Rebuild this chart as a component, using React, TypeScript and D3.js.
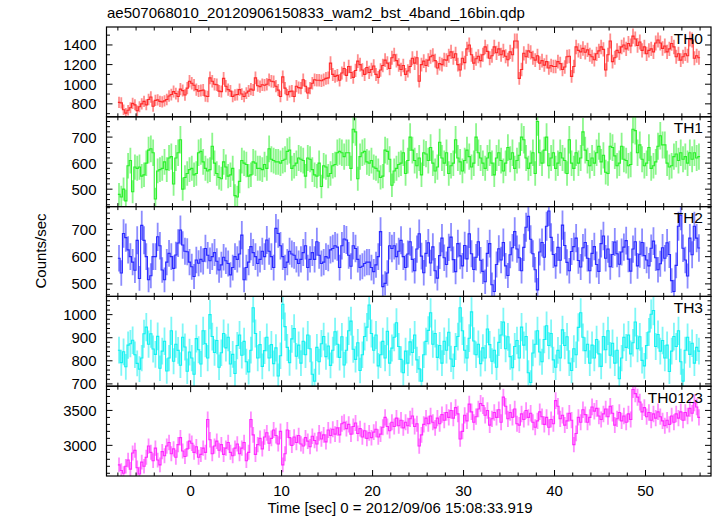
import React from 'react';
import * as d3 from 'd3';

// ---------- data (0.25 s bins, first bin centre at T_START) ----------
const T_START = -7.875;
const BIN = 0.25;

const TH0 = [
  815, 810, 740, 705, 735, 760, 805, 790, 730, 770, 800, 825, 790, 845, 870, 775,
  835, 840, 825, 820, 830, 845, 880, 895, 925, 905, 875, 950, 935, 890, 960, 1030,
  1010, 990, 945, 930, 935, 940, 880, 875, 1065, 1030, 1000, 995, 930, 925, 1060, 980,
  945, 930, 875, 890, 895, 945, 900, 875, 910, 930, 950, 940, 1065, 985, 975, 995,
  990, 1000, 1045, 1030, 1025, 980, 940, 875, 1075, 960, 892, 925, 930, 875, 980, 965,
  960, 1045, 980, 910, 960, 1010, 1045, 1040, 1040, 1035, 1045, 1060, 1065, 1215, 1100, 1080,
  1090, 1040, 1115, 1160, 1090, 1180, 1120, 1070, 1140, 1235, 1200, 1145, 1100, 1170, 1120, 1150,
  1185, 1100, 1070, 1145, 1190, 1245, 1215, 1160, 1270, 1300, 1240, 1195, 1150, 1190, 1100, 1135,
  1180, 1265, 1215, 1270, 1030, 1200, 1235, 1190, 1245, 1280, 1295, 1240, 1165, 1210, 1200, 1250,
  1245, 1290, 1330, 1270, 1310, 1200, 1145, 1265, 1220, 1360, 1400, 1300, 1215, 1260, 1285, 1240,
  1300, 1380, 1335, 1265, 1290, 1380, 1320, 1360, 1300, 1340, 1285, 1250, 1330, 1300, 1440, 1440,
  1060, 1150, 1315, 1280, 1340, 1325, 1270, 1245, 1290, 1215, 1240, 1195, 1230, 1165, 1190, 1180,
  1180, 1230, 1210, 1150, 1175, 1280, 1285, 1080, 1180, 1380, 1345, 1330, 1365, 1325, 1350, 1300,
  1280, 1250, 1310, 1340, 1380, 1355, 1145, 1300, 1440, 1230, 1270, 1345, 1320, 1380, 1400, 1360,
  1415, 1390, 1490, 1460, 1395, 1430, 1345, 1380, 1310, 1345, 1360, 1330, 1420, 1450, 1420, 1365,
  1390, 1330, 1360, 1415, 1380, 1280, 1310, 1245, 1280, 1310, 1290, 1460, 1450, 1265, 1290, 1270,
];

const TH1 = [
  480, 470, 500, 455, 590, 610, 490, 585, 580, 585, 550, 555, 600, 650, 655, 640,
  462, 570, 575, 580, 605, 575, 620, 625, 520, 620, 640, 690, 500, 545, 560, 575,
  580, 555, 560, 640, 645, 605, 580, 570, 575, 665, 600, 560, 545, 540, 605, 585,
  550, 555, 580, 475, 470, 530, 610, 600, 595, 550, 555, 605, 600, 580, 580, 575,
  595, 580, 655, 615, 610, 605, 605, 600, 610, 615, 645, 650, 580, 590, 600, 620,
  615, 610, 550, 620, 615, 575, 555, 550, 600, 510, 590, 585, 550, 560, 590, 595,
  640, 645, 640, 625, 640, 640, 580, 730, 720, 540, 625, 640, 645, 605, 600, 610,
  585, 580, 570, 545, 550, 650, 645, 615, 515, 570, 580, 595, 600, 640, 560, 610,
  700, 650, 610, 590, 620, 555, 640, 635, 610, 660, 600, 570, 585, 680, 620, 600,
  640, 560, 590, 600, 690, 620, 605, 570, 610, 650, 625, 585, 600, 700, 640, 620,
  600, 580, 620, 640, 600, 555, 620, 640, 610, 570, 600, 660, 615, 640, 580, 610,
  630, 700, 690, 620, 580, 600, 640, 560, 760, 640, 600, 650, 700, 590, 620, 640,
  580, 600, 640, 620, 610, 560, 690, 600, 580, 640, 600, 620, 720, 650, 610, 590,
  620, 600, 640, 665, 605, 630, 565, 560, 665, 660, 628, 590, 600, 665, 615, 610,
  590, 595, 730, 725, 640, 670, 615, 590, 600, 660, 580, 590, 605, 665, 705, 670,
  670, 600, 585, 590, 625, 635, 610, 640, 615, 625, 600, 640, 615, 640, 620, 625,
];

const TH2 = [
  594, 540, 685, 670, 625, 600, 580, 550, 660, 520, 715, 660, 600, 515, 530, 600,
  600, 673, 640, 551, 515, 580, 612, 600, 557, 606, 650, 698, 643, 620, 618, 580,
  563, 527, 588, 576, 590, 583, 630, 605, 585, 600, 615, 583, 551, 570, 598, 585,
  575, 533, 560, 600, 590, 610, 679, 515, 560, 580, 637, 615, 600, 575, 590, 620,
  600, 661, 620, 600, 560, 704, 685, 640, 600, 560, 580, 620, 610, 605, 590, 575,
  590, 615, 640, 560, 590, 615, 590, 655, 605, 575, 580, 600, 595, 625, 630, 640,
  635, 560, 640, 665, 661, 605, 565, 640, 630, 590, 560, 565, 575, 580, 580, 560,
  545, 570, 600, 692, 490, 502, 540, 640, 630, 640, 600, 620, 660, 600, 560, 610,
  655, 590, 548, 628, 684, 602, 541, 612, 651, 577, 636, 548, 521, 604, 668, 596,
  571, 634, 672, 589, 545, 648, 603, 566, 641, 592, 684, 611, 553, 598, 655, 587,
  546, 508, 612, 648, 497, 472, 571, 629, 588, 652, 566, 531, 607, 633, 692, 628,
  596, 548, 634, 708, 748, 664, 611, 552, 478, 617, 652, 598, 712, 768, 671, 608,
  566, 634, 587, 716, 641, 579, 548, 619, 637, 668, 586, 562, 633, 652, 594, 548,
  612, 637, 571, 546, 648, 676, 594, 628, 563, 608, 654, 611, 572, 617, 635, 659,
  591, 547, 628, 655, 566, 609, 652, 604, 588, 566, 631, 657, 596, 552, 574, 633,
  594, 651, 608, 512, 472, 568, 712, 752, 631, 588, 529, 668, 607, 712, 668, 632,
];

const TH3 = [
  846, 792, 839, 774, 868, 874, 889, 826, 789, 764, 812, 917, 946, 872, 917, 851,
  828, 906, 768, 842, 885, 756, 812, 930, 798, 872, 845, 781, 902, 860, 755, 838,
  812, 742, 896, 848, 786, 930, 874, 812, 1000, 905, 836, 888, 772, 835, 918, 856,
  902, 786, 828, 745, 866, 912, 824, 884, 796, 752, 846, 1030, 918, 812, 870, 776,
  844, 902, 812, 870, 788, 856, 734, 822, 1045, 948, 858, 792, 895, 940, 820, 868,
  790, 885, 826, 912, 852, 742, 712, 858, 796, 874, 905, 818, 864, 780, 846, 926,
  872, 815, 904, 782, 846, 930, 972, 850, 806, 878, 758, 826, 905, 946, 1042, 918,
  846, 912, 778, 826, 884, 812, 928, 790, 855, 902, 965, 862, 806, 748, 842, 790,
  882, 836, 912, 804, 765, 712, 826, 884, 932, 1008, 872, 918, 815, 866, 790, 885,
  846, 924, 808, 776, 862, 905, 1030, 930, 846, 812, 898, 1012, 886, 826, 872, 788,
  856, 812, 938, 870, 798, 846, 772, 880, 912, 968, 852, 904, 818, 770, 862, 888,
  812, 946, 868, 905, 748, 706, 834, 872, 930, 838, 796, 892, 952, 866, 918, 804,
  772, 845, 812, 934, 866, 904, 790, 758, 852, 826, 945, 1008, 902, 844, 872, 790,
  868, 812, 892, 830, 776, 905, 848, 930, 824, 876, 790, 846, 722, 812, 902, 858,
  912, 830, 878, 968, 852, 904, 802, 778, 866, 925, 1002, 1018, 862, 914, 842, 888,
  812, 868, 754, 842, 905, 862, 930, 796, 712, 846, 902, 828, 876, 790, 858, 842,
];

const TH0123 = [
  2720, 2640, 2600, 2700, 2790, 2660, 2890, 2930, 2680, 2590, 2760, 2700, 2830, 2990, 2900, 2780,
  2960, 2790, 2720, 2910, 2850, 2990, 3040, 2880, 2950, 2830, 3010, 3110, 2920, 2840, 2950, 3060,
  3030, 2900, 2980, 2830, 2870, 2960, 2900, 3370, 3080, 2880, 2990, 3060, 2930, 3010, 2870, 2960,
  3040, 2900, 2850, 2960, 3020, 2880, 2960, 3040, 2780, 2900, 3370, 3150, 2870, 3010, 3100, 2950,
  3120, 3180, 3030, 3100, 3220, 3140, 3020, 3200, 2720, 2880, 3220, 3110, 3000, 3120, 3040, 3140,
  3020, 2990, 3110, 3060, 2980, 3130, 3070, 3020, 3180, 3090, 3150, 3050, 3220, 3140, 3230, 3160,
  3250, 3150, 3310, 3330, 3240, 3300, 3160, 3270, 3320, 3170, 3240, 3120, 3210, 3100, 3180, 3110,
  3190, 3230, 3120, 3160, 3260, 3400, 3270, 3210, 3330, 3270, 3390, 3280, 3360, 3250, 3330, 3280,
  3380, 3420, 3270, 3310, 2990, 3150, 3300, 3390, 3310, 3420, 3330, 3250, 3390, 3310, 3440, 3360,
  3470, 3400, 3500, 3390, 3540, 3450, 3090, 3200, 3430, 3350, 3590, 3480, 3330, 3410, 3520, 3600,
  3570, 3430, 3500, 3290, 3380, 3470, 3400, 3510, 3330, 3690, 3560, 3380, 3470, 3400, 3520, 3310,
  3290, 3450, 3370, 3500, 3400, 3460, 3330, 3260, 3350, 3480, 3410, 3300, 3400, 3260, 3370, 3310,
  3640, 3560, 3380, 3430, 3290, 3350, 3460, 3360, 3010, 3170, 3400, 3330, 3510, 3440, 3330, 3400,
  3550, 3490, 3530, 3420, 3370, 3450, 3520, 3410, 3560, 3460, 3290, 3380, 3470, 3350, 3420, 3330,
  3450, 3370, 3800, 3740, 3690, 3620, 3480, 3540, 3410, 3470, 3360, 3450, 3390, 3480, 3410, 3350,
  3280, 3360, 3300, 3420, 3330, 3450, 3390, 3480, 3360, 3470, 3420, 3530, 3460, 3610, 3550, 3400,
];

const SERIES_NAMES = ['TH0', 'TH1', 'TH2', 'TH3', 'TH0123'];
const SERIES_DATA = [TH0, TH1, TH2, TH3, TH0123];
const Y_DOMAINS: [number, number][] = [[668, 1583], [433, 778], [454, 784], [690, 1079], [2561, 3847]];
const Y_LABEL_TICKS = [[800, 1000, 1200, 1400], [500, 600, 700], [500, 600, 700], [700, 800, 900, 1000], [3000, 3500]];
const Y_MINOR_STEP = [100, 20, 20, 20, 100];
const X_DOMAIN: [number, number] = [-9.25, 57.2];
const X_LABEL_TICKS = [0, 10, 20, 30, 40, 50];

const TITLE = 'ae507068010_20120906150833_wam2_bst_4band_16bin.qdp';
const X_TITLE = 'Time [sec] 0 = 2012/09/06 15:08:33.919';
const Y_TITLE = 'Counts/sec';

// ---------- styles / layout ----------
const COLORS = ['#ff1a1a', '#1aee1a', '#1a1aff', '#00f0f0', '#ff1aff'];
const FONT = "'Liberation Sans', Arial, Helvetica, sans-serif";
const W = 717, H = 516;
const LEFT = 106.5, RIGHT = 711, TOP = 27, BOTTOM = 476;
const PH = (BOTTOM - TOP) / 5;

export default function App() {
  const x = d3.scaleLinear().domain(X_DOMAIN).range([LEFT, RIGHT]);
  const xMinor = d3.range(-8, 57, 2);

  return (
    <svg width={W} height={H} style={{ position: 'absolute', left: 0, top: 0, background: '#fff' }} fontFamily={FONT}>
      <rect x={0} y={0} width={W} height={H} fill="#fff" />
      <text x={107} y={18} fontSize={15} fill="#000">{TITLE}</text>
      <defs>
        {SERIES_NAMES.map((n, p) => (
          <clipPath id={`clip${p}`} key={n}>
            <rect x={LEFT} y={TOP + p * PH} width={RIGHT - LEFT} height={PH} />
          </clipPath>
        ))}
      </defs>
      {SERIES_NAMES.map((name, p) => {
        const y0 = TOP + p * PH, y1 = y0 + PH;
        const y = d3.scaleLinear().domain(Y_DOMAINS[p]).range([y1, y0]);
        const data = SERIES_DATA[p];
        const minorY = d3.range(Math.ceil(Y_DOMAINS[p][0] / Y_MINOR_STEP[p]) * Y_MINOR_STEP[p], Y_DOMAINS[p][1], Y_MINOR_STEP[p]);
        const col = COLORS[p];
        const stepPts: [number, number][] = [];
        data.forEach((v, i) => {
          const t = T_START + i * BIN;
          stepPts.push([t - BIN / 2, v], [t + BIN / 2, v]);
        });
        const stepPath = d3.line<[number, number]>().x(d => x(d[0])).y(d => y(d[1]))(stepPts) || '';
        return (
          <g key={name}>
            <g clipPath={`url(#clip${p})`}>
              {data.map((v, i) => {
                const t = T_START + i * BIN;
                const e = 2 * Math.sqrt(v);
                const cx = x(t);
                return (
                  <line key={i} x1={cx} x2={cx} y1={y(v - e)} y2={y(v + e)} stroke={col} strokeWidth={1.8} strokeOpacity={0.5} />
                );
              })}
              <path d={stepPath} fill="none" stroke={col} strokeWidth={1.1} strokeOpacity={0.9} />
            </g>
            <rect x={LEFT} y={y0} width={RIGHT - LEFT} height={PH} fill="none" stroke="#000" strokeWidth={1.2} />
            {xMinor.map(v => {
              const major = v % 10 === 0;
              const len = major ? 6 : 3.5;
              return (
                <g key={`xt${v}`} stroke="#000" strokeWidth={1}>
                  <line x1={x(v)} x2={x(v)} y1={y1} y2={y1 - len} />
                  <line x1={x(v)} x2={x(v)} y1={y0} y2={y0 + len} />
                </g>
              );
            })}
            {minorY.map(v => {
              const major = Y_LABEL_TICKS[p].includes(v);
              const len = major ? 6 : 3.5;
              return (
                <g key={`yt${v}`} stroke="#000" strokeWidth={1}>
                  <line x1={LEFT} x2={LEFT + len} y1={y(v)} y2={y(v)} />
                  <line x1={RIGHT} x2={RIGHT - len} y1={y(v)} y2={y(v)} />
                </g>
              );
            })}
            {Y_LABEL_TICKS[p].map(v => (
              <text key={`yl${v}`} x={LEFT - 10} y={y(v) + 5.5} fontSize={15} textAnchor="end" fill="#000">{v}</text>
            ))}
            <text x={703} y={y0 + 16.5} fontSize={15.5} textAnchor="end" fill="#000">{name}</text>
          </g>
        );
      })}
      {X_LABEL_TICKS.map(v => (
        <text key={`xl${v}`} x={x(v)} y={496} fontSize={15} textAnchor="middle" fill="#000">{v}</text>
      ))}
      <text x={400} y={513} fontSize={15} textAnchor="middle" fill="#000">{X_TITLE}</text>
      <text transform="translate(46,251) rotate(-90)" fontSize={15} textAnchor="middle" fill="#000">{Y_TITLE}</text>
    </svg>
  );
}
